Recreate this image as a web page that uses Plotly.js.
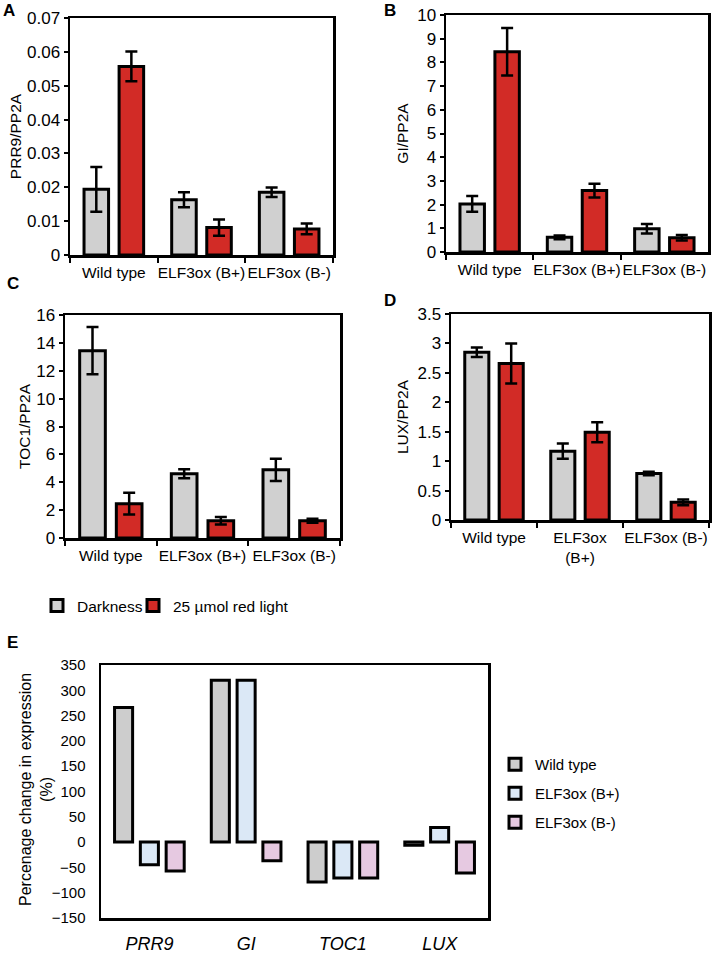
<!DOCTYPE html>
<html>
<head>
<meta charset="utf-8">
<script src="https://cdn.plot.ly/plotly-3.0.1.min.js"></script>
<style>html,body{margin:0;padding:0;background:#fff;}</style>
</head>
<body>
<div id="chart" style="width:712px;height:953px;"></div>
<script>
// ---- data ----
const groups = ['Wild type', 'ELF3ox (B+)', 'ELF3ox (B-)'];
const groupsD = ['Wild type', 'ELF3ox<br>(B+)', 'ELF3ox (B-)'];
const seriesNames = ['Darkness', '25 µmol red light'];

const prr9Dark = [0.0194, 0.0163, 0.0185];
const prr9DarkErr = [0.0066, 0.0022, 0.0014];
const prr9Red = [0.0557, 0.0081, 0.0077];
const prr9RedErr = [0.0044, 0.0024, 0.0016];

const giDark = [2.03, 0.62, 0.98];
const giDarkErr = [0.33, 0.08, 0.20];
const giRed = [8.45, 2.59, 0.60];
const giRedErr = [1.00, 0.29, 0.12];

const toc1Dark = [13.44, 4.61, 4.89];
const toc1DarkErr = [1.70, 0.32, 0.80];
const toc1Red = [2.46, 1.24, 1.24];
const toc1RedErr = [0.78, 0.27, 0.15];

const luxDark = [2.85, 1.17, 0.79];
const luxDarkErr = [0.08, 0.13, 0.03];
const luxRed = [2.66, 1.49, 0.30];
const luxRedErr = [0.34, 0.17, 0.05];

const genes = ['PRR9', 'GI', 'TOC1', 'LUX'];
const lineNames = ['Wild type', 'ELF3ox (B+)', 'ELF3ox (B-)'];
const changeWT = [266, 320, -79, -6];
const changeBplus = [-45, 320, -71, 29];
const changeBminus = [-57, -37, -71, -61];

// ---- style ----
const F = 'Liberation Sans, Arial, sans-serif';
const DARK = '#d0d0d0';
const RED = '#d22b26';
const E_COLORS = ['#cdcdcd', '#dbe8f6', '#e6c9e1'];

function barTrace(x, y, err, name, color, xa, ya, show, leg) {
  return {
    type: 'bar', x: x, y: y, name: name, xaxis: xa, yaxis: ya,
    legendgroup: name, showlegend: show, legend: leg,
    marker: {color: color, line: {color: '#000', width: 3}},
    error_y: {type: 'data', array: err, visible: true, color: '#000', thickness: 2.5, width: 6},
    hoverinfo: 'x+y'
  };
}

const traces = [
  barTrace(groups, prr9Dark, prr9DarkErr, seriesNames[0], DARK, 'x', 'y', true, 'legend'),
  barTrace(groups, prr9Red, prr9RedErr, seriesNames[1], RED, 'x', 'y', true, 'legend3'),
  barTrace(groups, giDark, giDarkErr, seriesNames[0], DARK, 'x2', 'y2', false, 'legend'),
  barTrace(groups, giRed, giRedErr, seriesNames[1], RED, 'x2', 'y2', false, 'legend3'),
  barTrace(groups, toc1Dark, toc1DarkErr, seriesNames[0], DARK, 'x3', 'y3', false, 'legend'),
  barTrace(groups, toc1Red, toc1RedErr, seriesNames[1], RED, 'x3', 'y3', false, 'legend3'),
  barTrace(groupsD, luxDark, luxDarkErr, seriesNames[0], DARK, 'x4', 'y4', false, 'legend'),
  barTrace(groupsD, luxRed, luxRedErr, seriesNames[1], RED, 'x4', 'y4', false, 'legend3')
];
const eVals = [changeWT, changeBplus, changeBminus];
eVals.forEach(function (v, i) {
  traces.push({
    type: 'bar', x: genes, y: v, name: lineNames[i], xaxis: 'x5', yaxis: 'y5',
    legend: 'legend2', legendgroup: 'e' + i, showlegend: true,
    marker: {color: E_COLORS[i], line: {color: '#000', width: 3}}
  });
});

const W = 712, H = 953;
function px(a, b) { return [a / W, b / W]; }
function py(top, bottom) { return [1 - bottom / H, 1 - top / H]; }

function xax(domain, anchor) {
  return {
    domain: domain, anchor: anchor, showline: true, mirror: true, linewidth: 2.5, linecolor: '#000',
    ticks: 'outside', tickson: 'boundaries', ticklen: 5, tickwidth: 2, tickcolor: '#000',
    showgrid: false, zeroline: false, tickangle: 0, ticklabelstandoff: 2,
    tickfont: {size: 15.5, family: F, color: '#000'},
    fixedrange: true
  };
}
function yax(domain, anchor, range, dtick, title, standoff) {
  return {
    domain: domain, anchor: anchor, range: range, dtick: dtick, tick0: 0,
    showline: true, mirror: true, linewidth: 2.5, linecolor: '#000',
    ticks: 'outside', ticklen: 4, tickwidth: 2, tickcolor: '#000',
    showgrid: false, zeroline: false, tickfont: {size: 17, family: F, color: '#000'},
    title: {text: title, font: {size: 15.5, family: F, color: '#000'}, standoff: standoff},
    fixedrange: true
  };
}

function letter(t, x, y) {
  return {text: '<b>' + t + '</b>', x: x / W, y: 1 - y / H, xref: 'paper', yref: 'paper',
    xanchor: 'center', yanchor: 'middle', showarrow: false, font: {size: 17, family: F, color: '#000'}};
}

function topLegend(xpx) {
  return {orientation: 'h', x: xpx / W, y: 1 - 589 / H, xanchor: 'left', yanchor: 'top',
    font: {size: 15.5, family: F, color: '#000'}, bgcolor: 'rgba(0,0,0,0)'};
}

const layout = {
  width: W, height: H,
  margin: {l: 0, r: 0, t: 0, b: 0, autoexpand: false},
  paper_bgcolor: '#fff', plot_bgcolor: '#fff',
  font: {family: F, size: 15, color: '#000'},
  barmode: 'group', bargap: 0.2, bargroupgap: 0.3,
  showlegend: true,
  legend: topLegend(37),
  legend3: topLegend(133),
  legend2: {orientation: 'v', x: 495 / W, y: 1 - 748 / H, xanchor: 'left', yanchor: 'top',
    font: {size: 15, family: F, color: '#000'}, bgcolor: 'rgba(0,0,0,0)', tracegroupgap: 6.5},
  xaxis: xax(px(70, 333), 'y'),
  yaxis: yax(py(18, 255), 'x', [0, 0.07], 0.01, 'PRR9/PP2A', 2),
  xaxis2: xax(px(446, 708), 'y2'),
  yaxis2: yax(py(15, 252), 'x2', [0, 10], 1, 'GI/PP2A', 5),
  xaxis3: xax(px(65, 340), 'y3'),
  yaxis3: yax(py(315, 538), 'x3', [0, 16], 2, 'TOC1/PP2A', 2),
  xaxis4: xax(px(451, 709), 'y4'),
  yaxis4: yax(py(314, 520), 'x4', [0, 3.5], 0.5, 'LUX/PP2A', 5),
  xaxis5: {
    domain: px(101, 488), anchor: 'y5', showline: true, mirror: true, linewidth: 2.5, linecolor: '#000',
    ticks: '', showgrid: false, zeroline: false, tickangle: 0, ticklabelstandoff: 8,
    tickfont: {size: 18, family: F, color: '#000', style: 'italic'}, fixedrange: true
  },
  yaxis5: {
    domain: py(665, 918), anchor: 'x5', range: [-150, 350], dtick: 50, tick0: 0,
    showline: true, mirror: true, linewidth: 2.5, linecolor: '#000', ticks: '',
    ticklabelstandoff: 10, showgrid: false, zeroline: false,
    tickfont: {size: 15, family: F, color: '#000'},
    fixedrange: true
  },
  annotations: [
    letter('A', 9, 10), letter('B', 390, 10), letter('C', 13, 283),
    letter('D', 390, 301), letter('E', 12, 642),
    {text: 'Percenage change in expression<br>(%)', textangle: -90, x: 36 / W, y: 1 - 790 / H,
      xref: 'paper', yref: 'paper', xanchor: 'center', yanchor: 'middle', showarrow: false,
      font: {size: 16, family: F, color: '#000'}}
  ]
};

Plotly.newPlot('chart', traces, layout, {staticPlot: true, displayModeBar: false});
</script>
</body>
</html>
